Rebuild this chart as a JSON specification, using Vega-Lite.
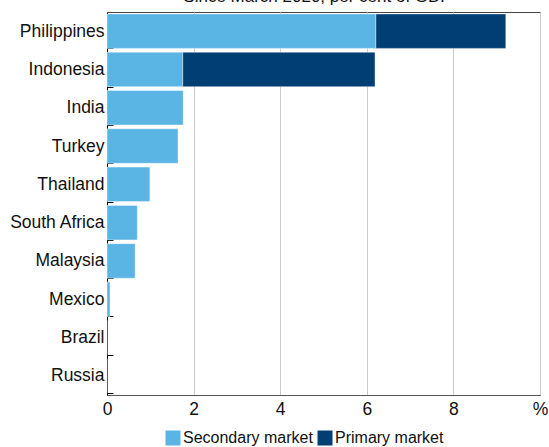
{
  "$schema": "https://vega.github.io/schema/vega-lite/v6.json",
  "autosize": "none",
  "width": 433,
  "height": 383,
  "padding": {"left": 107, "top": 12, "right": 9, "bottom": 52},
  "background": "white",
  "title": {
    "text": "Since March 2020, per cent of GDP",
    "font": "Liberation Sans",
    "fontSize": 17,
    "fontWeight": "normal",
    "color": "#111",
    "anchor": "middle",
    "baseline": "alphabetic",
    "offset": 2,
    "dy": 18,
    "dx": -6
  },
  "config": {
    "font": "Liberation Sans",
    "view": {"stroke": "#444", "strokeWidth": 1}
  },
  "data": {
    "values": [
      {"country": "Philippines", "type": "Secondary market", "value": 6.21, "ord": 1},
      {"country": "Philippines", "type": "Primary market", "value": 3.0, "ord": 2},
      {"country": "Indonesia", "type": "Secondary market", "value": 1.75, "ord": 1},
      {"country": "Indonesia", "type": "Primary market", "value": 4.44, "ord": 2},
      {"country": "India", "type": "Secondary market", "value": 1.76, "ord": 1},
      {"country": "Turkey", "type": "Secondary market", "value": 1.64, "ord": 1},
      {"country": "Thailand", "type": "Secondary market", "value": 0.99, "ord": 1},
      {"country": "South Africa", "type": "Secondary market", "value": 0.7, "ord": 1},
      {"country": "Malaysia", "type": "Secondary market", "value": 0.65, "ord": 1},
      {"country": "Mexico", "type": "Secondary market", "value": 0.07, "ord": 1},
      {"country": "Brazil", "type": "Secondary market", "value": 0, "ord": 1},
      {"country": "Russia", "type": "Secondary market", "value": 0, "ord": 1}
    ]
  },
  "mark": {"type": "bar", "stroke": "white", "strokeWidth": 0.6, "strokeOpacity": 0.7},
  "encoding": {
    "y": {
      "field": "country",
      "type": "nominal",
      "sort": ["Philippines", "Indonesia", "India", "Turkey", "Thailand", "South Africa", "Malaysia", "Mexico", "Brazil", "Russia"],
      "scale": {"paddingInner": 0.1, "paddingOuter": 0.05},
      "axis": {
        "title": null,
        "labelFont": "Liberation Sans",
        "labelFontSize": 17.5,
        "labelColor": "#111",
        "domainColor": "#000",
        "domainWidth": 1,
        "tickColor": "#000",
        "tickBand": "extent",
        "tickSize": -6,
        "labelPadding": 9,
        "grid": false
      }
    },
    "x": {
      "field": "value",
      "type": "quantitative",
      "stack": "zero",
      "scale": {"domain": [0, 10], "nice": false},
      "axis": {
        "title": null,
        "values": [0, 2, 4, 6, 8, 10],
        "labelExpr": "datum.value == 10 ? '%' : datum.label",
        "labelFont": "Liberation Sans",
        "labelFontSize": 17.5,
        "labelColor": "#111",
        "labelPadding": 5,
        "ticks": false,
        "domainColor": "#555",
        "grid": true,
        "gridColor": "#cccccc",
        "gridWidth": 1,
        "labelFlush": false
      }
    },
    "color": {
      "field": "type",
      "type": "nominal",
      "scale": {"domain": ["Secondary market", "Primary market"], "range": ["#5ab4e4", "#003e73"]},
      "legend": {
        "title": null,
        "orient": "none",
        "legendX": 58,
        "legendY": 418,
        "direction": "horizontal",
        "symbolType": "square",
        "symbolSize": 225,
        "symbolStrokeWidth": 0,
        "labelFont": "Liberation Sans",
        "labelFontSize": 16,
        "labelColor": "#111",
        "labelOffset": 2,
        "columnPadding": 4
      }
    },
    "order": {"field": "ord", "type": "quantitative"}
  }
}
